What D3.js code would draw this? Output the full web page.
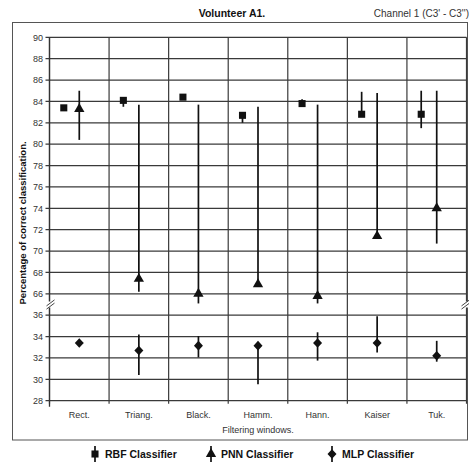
<!DOCTYPE html>
<html>
<head>
<meta charset="utf-8">
<script src="https://cdn.jsdelivr.net/npm/d3@7"></script>
<style>
  html, body { margin: 0; padding: 0; background: #fff; }
  svg { display: block; font-family: "Liberation Sans", Arial, sans-serif; }
</style>
</head>
<body>
<svg id="chart" width="469" height="467"></svg>
<script>
// Filtering windows on the x axis
const categories = ["Rect.", "Triang.", "Black.", "Hamm.", "Hann.", "Kaiser", "Tuk."];

// RBF classifier: mean with min / max
const rbfMean = [83.4, 84.1, 84.4, 82.7, 83.8, 82.8, 82.8];
const rbfLow  = [83.4, 83.5, 84.4, 82.0, 83.8, 82.8, 81.5];
const rbfHigh = [83.4, 84.1, 84.4, 82.7, 84.2, 84.9, 85.0];

// PNN classifier
const pnnMean = [83.3, 67.4, 66.0, 66.9, 65.8, 71.4, 74.0];
const pnnLow  = [80.4, 66.2, 65.1, 66.9, 65.1, 71.4, 70.7];
const pnnHigh = [85.0, 83.7, 83.7, 83.5, 83.7, 84.8, 85.0];

// MLP classifier
const mlpMean = [33.4, 32.7, 33.15, 33.15, 33.4, 33.4, 32.2];
const mlpLow  = [33.4, 30.4, 32.05, 29.55, 31.75, 32.5, 31.65];
const mlpHigh = [33.4, 34.2, 34.05, 33.15, 34.4, 35.9, 33.6];

// Tick values of the broken y axis (lower and upper segments)
const lowTicks = [28, 30, 32, 34, 36];
const highTicks = [66, 68, 70, 72, 74, 76, 78, 80, 82, 84, 86, 88, 90];

const svg = d3.select("#chart");

const plot = { left: 49.5, right: 466.5, top: 37.3, bottom: 400.7 };

const x = d3.scaleBand().domain(categories).range([plot.left, plot.right]);
const step = (plot.bottom - plot.top) / 17;
const yLow = d3.scaleLinear().domain([28, 36]).range([plot.bottom, plot.bottom - 4 * step]);
const yHigh = d3.scaleLinear().domain([66, 90]).range([plot.bottom - 5 * step, plot.top]);
const y = v => (v >= 50 ? yHigh(v) : yLow(v));

// Outer frame
svg.append("rect")
  .attr("x", 12.5).attr("y", 22.5).attr("width", 455).attr("height", 417.5)
  .attr("fill", "none").attr("stroke", "#555").attr("stroke-width", 1);

// Titles
svg.append("text").attr("x", 232).attr("y", 17).attr("text-anchor", "middle")
  .attr("font-size", 10.5).attr("font-weight", "bold").attr("fill", "#111")
  .text("Volunteer A1.");
svg.append("text").attr("x", 469).attr("y", 17).attr("text-anchor", "end")
  .attr("font-size", 10).attr("fill", "#333")
  .text("Channel 1 (C3' - C3'')");

// Horizontal gridlines
const allTicks = lowTicks.concat(highTicks);
svg.append("g").selectAll("line").data(allTicks).join("line")
  .attr("x1", plot.left - 4).attr("x2", plot.right)
  .attr("y1", d => y(d)).attr("y2", d => y(d))
  .attr("stroke", "#3a3a3a").attr("stroke-width", 1.2);

// Vertical gridlines at band edges
const edges = categories.map(c => x(c)).concat([plot.right]);
svg.append("g").selectAll("line").data(edges).join("line")
  .attr("x1", d => d).attr("x2", d => d)
  .attr("y1", plot.top).attr("y2", plot.bottom + 3)
  .attr("stroke", "#3a3a3a").attr("stroke-width", 1.2);

// Left axis line
svg.append("line").attr("x1", plot.left).attr("x2", plot.left)
  .attr("y1", plot.top).attr("y2", plot.bottom + 6)
  .attr("stroke", "#333").attr("stroke-width", 1.3);

// Y tick labels
svg.append("g").selectAll("text").data(allTicks).join("text")
  .attr("x", 43).attr("y", d => y(d) + 3.2).attr("text-anchor", "end")
  .attr("font-size", 9).attr("fill", "#333")
  .text(d => d);

// Axis break marks
function breakMark(cx, cy) {
  const g = svg.append("g");
  g.append("rect").attr("x", cx - 4).attr("y", cy - 3).attr("width", 8).attr("height", 6).attr("fill", "#fff");
  [-1.6, 1.6].forEach(dy => {
    g.append("line").attr("x1", cx - 4).attr("y1", cy + dy + 3).attr("x2", cx + 4).attr("y2", cy + dy - 3)
      .attr("stroke", "#444").attr("stroke-width", 1);
  });
}
const breakY = (y(36) + y(66)) / 2;
breakMark(plot.left + 1, breakY);
breakMark(plot.right - 1, breakY);

// X labels
svg.append("g").selectAll("text").data(categories).join("text")
  .attr("x", d => x(d) + x.bandwidth() / 2).attr("y", 418).attr("text-anchor", "middle")
  .attr("font-size", 9).attr("fill", "#333").text(d => d);

svg.append("text").attr("x", (plot.left + plot.right) / 2).attr("y", 433)
  .attr("text-anchor", "middle").attr("font-size", 9).attr("fill", "#333")
  .text("Filtering windows.");

// Y title
svg.append("text")
  .attr("transform", `translate(25.5, ${(plot.top + plot.bottom) / 2 + 4}) rotate(-90)`)
  .attr("text-anchor", "middle").attr("font-size", 9.5).attr("font-weight", "bold").attr("fill", "#111")
  .text("Percentage of correct classification.");

// Marker symbols
const sym = {
  square: d3.symbol().type(d3.symbolSquare).size(50)(),
  triangle: d3.symbol().type(d3.symbolTriangle).size(46)(),
  diamond: "M0,-4.8L4.5,0L0,4.8L-4.5,0Z"
};

function series(mean, low, high, offset, shape) {
  const g = svg.append("g");
  const cx = i => x(categories[i]) + x.bandwidth() / 2 + offset;
  g.selectAll("line").data(mean).join("line")
    .attr("x1", (d, i) => cx(i)).attr("x2", (d, i) => cx(i))
    .attr("y1", (d, i) => y(low[i])).attr("y2", (d, i) => y(high[i]))
    .attr("stroke", "#111").attr("stroke-width", 1.7);
  g.selectAll("path").data(mean).join("path")
    .attr("d", sym[shape])
    .attr("transform", (d, i) => `translate(${cx(i)},${y(d)})`)
    .attr("fill", "#111");
}

series(rbfMean, rbfLow, rbfHigh, -15.5, "square");
series(pnnMean, pnnLow, pnnHigh, 0, "triangle");
series(mlpMean, mlpLow, mlpHigh, 0, "diamond");

// Legend
const legend = [
  { name: "RBF Classifier", shape: "square", x: 95 },
  { name: "PNN Classifier", shape: "triangle", x: 211 },
  { name: "MLP Classifier", shape: "diamond", x: 332 }
];
const lg = svg.append("g").selectAll("g").data(legend).join("g")
  .attr("transform", d => `translate(${d.x},454)`);
lg.append("line").attr("x1", 0).attr("x2", 0).attr("y1", -8).attr("y2", 8)
  .attr("stroke", "#111").attr("stroke-width", 1.7);
lg.append("path").attr("d", d => sym[d.shape]).attr("fill", "#111");
lg.append("text").attr("x", 10).attr("y", 3.5)
  .attr("font-size", 10.5).attr("font-weight", "bold").attr("fill", "#111")
  .text(d => d.name);
</script>
</body>
</html>
